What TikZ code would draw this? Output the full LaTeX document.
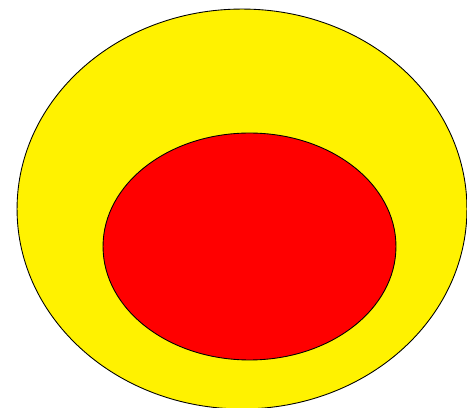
\documentclass[tikz,border=0pt]{standalone}
\usetikzlibrary{shapes.geometric}

\begin{document}
\begin{tikzpicture}[
    x=0.02cm, y=-0.02cm,
    % Ring Style
    ring/.style={draw=black, ellipse, line width=0.5pt, inner sep=0pt}
]

% ================= Frame =================
\useasboundingbox (0,0) rectangle (467,408);
\clip (0,0) rectangle (467,408);

% ================= Nodes =================
\node[ring, fill=yellow, minimum width=9cm, minimum height=8cm] (outer) at (242,209) {};
\node[ring, fill=red, minimum width=5.86cm, minimum height=4.54cm] (inner) at (249.5,246.5) {};

\end{tikzpicture}
\end{document}
